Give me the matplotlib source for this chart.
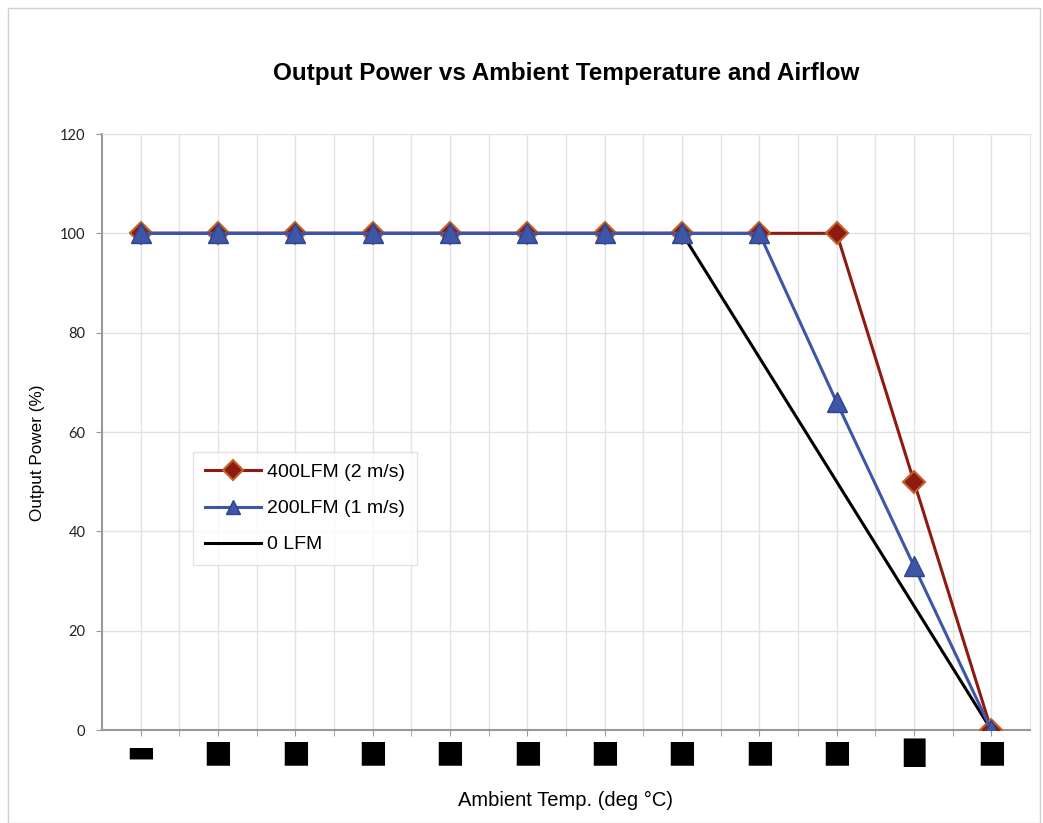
import matplotlib
matplotlib.use("Agg")
import matplotlib.pyplot as plt
from matplotlib.patches import Rectangle


# x tick labels are blacked out in the source, so keep them as block glyphs
x_labels = ["▬", "■", "■", "■", "■", "■", "■", "■", "■", "■", "█", "■"]
x_pos = list(range(12))

lfm400 = [100, 100, 100, 100, 100, 100, 100, 100, 100, 100, 50, 0]
lfm200 = [100, 100, 100, 100, 100, 100, 100, 100, 100, 66, 33, 0]
lfm0_x = [0, 1, 2, 3, 4, 5, 6, 7, 11]
lfm0 = [100, 100, 100, 100, 100, 100, 100, 100, 0]

y_ticks = [0, 20, 40, 60, 80, 100, 120]


fig = plt.figure(figsize=(10.43, 8.23), dpi=100)
fig.patches.append(Rectangle((8 / 1043, 0), 1032 / 1043, 815 / 823, transform=fig.transFigure,
                             fill=False, edgecolor="#d0d0d0", linewidth=1))

ax = fig.add_axes([102 / 1043, 1 - 730 / 823, 928 / 1043, 596 / 823])

ax.plot(lfm0_x, lfm0, color="black", linewidth=2.2, label="0 LFM", zorder=3)
ax.plot(x_pos, lfm200, color="#3d56a8", linewidth=2.2, marker="^", markersize=15,
        markerfacecolor="#3d56a8", markeredgecolor="#2e4690", label="200LFM (1 m/s)", zorder=4)
ax.plot(x_pos, lfm400, color="#8e1b12", linewidth=2.2, marker="D", markersize=11,
        markerfacecolor="#8e1b12", markeredgecolor="#c0622a", markeredgewidth=1.5,
        label="400LFM (2 m/s)", zorder=3.5)

ax.set_xlim(-0.5, 11.5)
ax.set_ylim(0, 120)
ax.set_yticks(y_ticks)
ax.set_yticklabels([str(v) for v in y_ticks], fontname="Lato", fontsize=10.5, color="#222222")
ax.set_xticks(x_pos)
ax.set_xticks([p + 0.5 for p in x_pos[:-1]], minor=True)
ax.set_xticklabels(x_labels, fontname="DejaVu Sans", fontsize=22, color="black")
ax.get_xticklabels()[10].set_fontsize(20)
ax.tick_params(axis="y", length=4, color="#999999", pad=8)
ax.tick_params(axis="x", which="both", length=4, color="#999999", pad=2)

ax.grid(True, which="both", color="#e2e2e2", linewidth=1)
ax.set_axisbelow(True)
for side in ["left", "bottom"]:
    ax.spines[side].set_color("#999999")
    ax.spines[side].set_linewidth(1.5)
for side in ["top", "right"]:
    ax.spines[side].set_color("#e2e2e2")

ax.set_title("Output Power vs Ambient Temperature and Airflow", fontname="Liberation Sans",
             fontweight="bold", fontsize=17.5, pad=39)
ax.set_ylabel("Output Power (%)", fontname="Liberation Sans", fontsize=12.3)
ax.yaxis.set_label_coords(-0.0614, 0.466)
ax.set_xlabel("Ambient Temp. (deg °C)", fontname="Liberation Sans", fontsize=14.5)
ax.xaxis.set_label_coords(0.5, -0.102)

handles, labels = ax.get_legend_handles_labels()
leg = ax.legend(handles[::-1], labels[::-1], loc="upper left",
                bbox_to_anchor=(91 / 928, 1 - (452 - 134) / 596), borderaxespad=0,
                frameon=True, fancybox=False, edgecolor="#dddddd",
                prop={"family": "Liberation Sans", "size": 14},
                handlelength=2.9, borderpad=0.6, labelspacing=0.95, handletextpad=0.3)
for h in leg.legend_handles:
    h.set_markersize(10)
leg.get_frame().set_linewidth(1)

fig.savefig("out.png", dpi=100)
